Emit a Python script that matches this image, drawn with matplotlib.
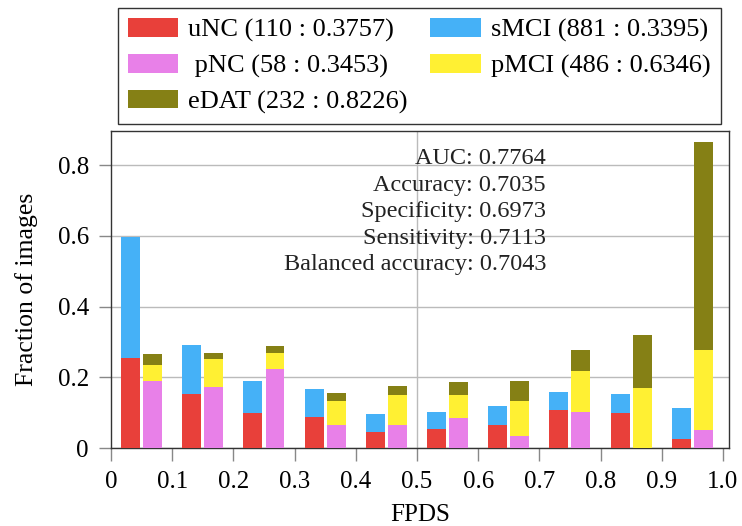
import numpy as np
import matplotlib
matplotlib.use('Agg')
import matplotlib.pyplot as plt

plt.rcParams['font.family'] = ['Liberation Serif', 'DejaVu Serif']

# FPDS bins (centres)
bin_centers = [0.05, 0.15, 0.25, 0.35, 0.45, 0.55, 0.65, 0.75, 0.85, 0.95]

# fraction of images of each group falling in each bin
uNC = [0.254, 0.153, 0.100, 0.089, 0.046, 0.054, 0.065, 0.108, 0.100, 0.025]
sMCI = [0.344, 0.140, 0.090, 0.078, 0.051, 0.049, 0.055, 0.051, 0.053, 0.089]
pNC = [0.190, 0.173, 0.223, 0.067, 0.067, 0.086, 0.035, 0.102, 0.000, 0.051]
pMCI = [0.044, 0.078, 0.047, 0.067, 0.084, 0.064, 0.099, 0.116, 0.171, 0.228]
eDAT = [0.031, 0.019, 0.018, 0.023, 0.025, 0.037, 0.056, 0.061, 0.149, 0.585]

groups = ['uNC', 'pNC', 'eDAT', 'sMCI', 'pMCI']
counts = [110, 58, 232, 881, 486]
scores = ['0.3757', '0.3453', '0.8226', '0.3395', '0.6346']

metric_names = ['AUC', 'Accuracy', 'Specificity', 'Sensitivity', 'Balanced accuracy']
metric_values = ['0.7764', '0.7035', '0.6973', '0.7113', '0.7043']

colors = {'uNC': '#e8403a', 'sMCI': '#45b1f7', 'pNC': '#e880e8',
          'pMCI': '#fff033', 'eDAT': '#858015'}

fig = plt.figure(figsize=(7.42, 5.26), dpi=100)
ax = fig.add_axes([0.1496, 0.1477, 0.8329, 0.6032])

x = np.array(bin_centers)
w = 0.031
off = 0.018

bars = {}
# left bar: uNC + sMCI
bars['uNC'] = ax.bar(x - off, uNC, w, color=colors['uNC'], zorder=3)
bars['sMCI'] = ax.bar(x - off, sMCI, w, bottom=uNC, color=colors['sMCI'], zorder=3)
# right bar: pNC + pMCI + eDAT
bars['pNC'] = ax.bar(x + off, pNC, w, color=colors['pNC'], zorder=3)
bottom2 = np.array(pNC) + np.array(pMCI)
bars['pMCI'] = ax.bar(x + off, pMCI, w, bottom=pNC, color=colors['pMCI'], zorder=3)
bars['eDAT'] = ax.bar(x + off, eDAT, w, bottom=bottom2, color=colors['eDAT'], zorder=3)

ax.set_xlim(0, 1.01)
ax.set_ylim(0, 0.896)
ax.set_xticks(np.arange(0, 1.01, 0.1))
ax.set_xticklabels(['0', '0.1', '0.2', '0.3', '0.4', '0.5', '0.6', '0.7', '0.8', '0.9', '1.0'])
ax.set_yticks([0, 0.2, 0.4, 0.6, 0.8])
ax.set_yticklabels(['0', '0.2', '0.4', '0.6', '0.8'])

ax.grid(axis='y', color='#bbbbbb', linewidth=1.0, zorder=0)
ax.axvline(0.5, color='#bbbbbb', linewidth=1.0, zorder=0)
ax.tick_params(direction='out', length=9, width=1, color='#888888',
               labelsize=18, pad=7)
for s in ax.spines.values():
    s.set_color('#333333')
    s.set_linewidth(1.0)

ax.set_xlabel('FPDS', fontsize=18, labelpad=8)
ax.set_ylabel('Fraction of images', fontsize=18.5, labelpad=14)

txt = '\n'.join('{}: {}'.format(n, v) for n, v in zip(metric_names, metric_values))
ax.text(0.704, 0.945, txt, transform=ax.transAxes, ha='right', va='top',
        multialignment='right', fontsize=17.5, linespacing=1.34, color='#222222', zorder=4)

handles = [bars[g] for g in groups]
labels = []
for g, c, s in zip(groups, counts, scores):
    lab = '{} ({} : {})'.format(g, c, s)
    if g == 'pNC':
        lab = ' ' + lab
    labels.append(lab)
leg = fig.legend(handles, labels, ncol=2, loc='upper center',
                 bbox_to_anchor=(0.565, 0.985), fontsize=19, frameon=True,
                 fancybox=False, framealpha=1, edgecolor='#333333',
                 handlelength=1.9, handleheight=0.7, handletextpad=0.38,
                 columnspacing=0.85, labelspacing=0.45, borderpad=0.4,
                 borderaxespad=0)
leg.get_frame().set_linewidth(1.0)

plt.savefig('out.png', dpi=100)
